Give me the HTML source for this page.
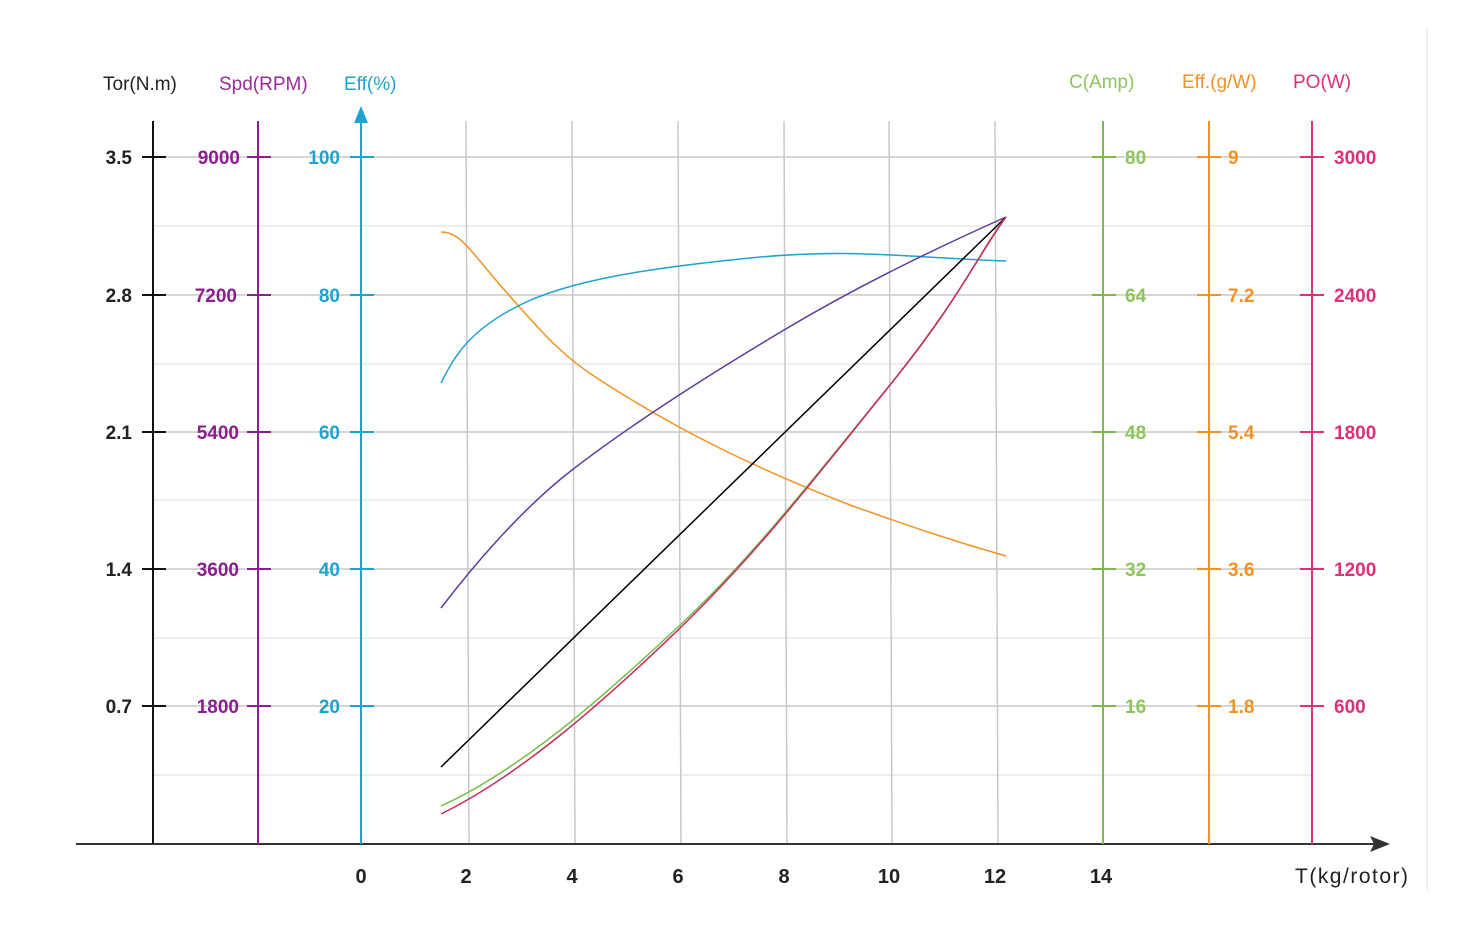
<!DOCTYPE html>
<html><head><style>body{margin:0;background:#fff}svg{display:block}text{font-family:"Liberation Sans",sans-serif}</style></head>
<body>
<svg width="1473" height="943" viewBox="0 0 1473 943">
<line x1="1427" y1="28" x2="1427" y2="890" stroke="#f0f0f0" stroke-width="2"/>
<g stroke="#e8e8e8" stroke-width="1.5">
<line x1="153" y1="226" x2="1312" y2="226"/><line x1="153" y1="364" x2="1312" y2="364"/>
<line x1="153" y1="500" x2="1312" y2="500"/><line x1="153" y1="638" x2="1312" y2="638"/>
<line x1="153" y1="775" x2="1312" y2="775"/></g>
<g stroke="#c8c8c8" stroke-width="1.5">
<line x1="153" y1="157" x2="1312" y2="157"/><line x1="153" y1="295" x2="1312" y2="295"/>
<line x1="153" y1="432" x2="1312" y2="432"/><line x1="153" y1="569" x2="1312" y2="569"/>
<line x1="153" y1="706" x2="1312" y2="706"/>
<line x1="466" y1="121" x2="469" y2="844"/><line x1="572" y1="121" x2="575" y2="844"/>
<line x1="678" y1="121" x2="681" y2="844"/><line x1="784" y1="121" x2="787" y2="844"/>
<line x1="889" y1="121" x2="892" y2="844"/><line x1="995" y1="121" x2="998" y2="844"/></g>
<line x1="76" y1="844" x2="1375" y2="844" stroke="#333" stroke-width="2"/>
<polygon points="1390,844 1370,836 1374,844 1370,852" fill="#333"/>
<g stroke-width="2">
<line x1="153" y1="121" x2="153" y2="844" stroke="#111"/>
<line x1="258" y1="121" x2="258" y2="844" stroke="#8a1e8e"/>
<line x1="361" y1="118" x2="361" y2="844" stroke="#1ea3d0"/>
<line x1="1103" y1="121" x2="1103" y2="844" stroke="#7cbb4a"/>
<line x1="1209" y1="121" x2="1209" y2="844" stroke="#f39220"/>
<line x1="1312" y1="121" x2="1312" y2="844" stroke="#de2f7a"/>
</g>
<polygon points="361,106 354,123 368,123" fill="#1ea3d0"/>
<g stroke-width="2">
<g stroke="#111"><path d="M142 157h24M142 295h24M142 432h24M142 569h24M142 706h24"/></g>
<g stroke="#8a1e8e"><path d="M247 157h24M247 295h24M247 432h24M247 569h24M247 706h24"/></g>
<g stroke="#1ea3d0"><path d="M350 157h24M350 295h24M350 432h24M350 569h24M350 706h24"/></g>
<g stroke="#7cbb4a"><path d="M1092 157h24M1092 295h24M1092 432h24M1092 569h24M1092 706h24"/></g>
<g stroke="#f39220"><path d="M1197 157h24M1197 295h24M1197 432h24M1197 569h24M1197 706h24"/></g>
<g stroke="#de2f7a"><path d="M1300 157h24M1300 295h24M1300 432h24M1300 569h24M1300 706h24"/></g>
</g>
<g font-size="19">
<text x="103" y="90" fill="#222">Tor(N.m)</text>
<text x="219" y="90" fill="#9b2a9b">Spd(RPM)</text>
<text x="344" y="90" fill="#1ea3d0">Eff(%)</text>
<text x="1069" y="88" fill="#8cc65a">C(Amp)</text>
<text x="1182" y="88" fill="#f39220">Eff.(g/W)</text>
<text x="1293" y="88" fill="#de2f7a">PO(W)</text>
</g>
<g font-size="19" font-weight="bold">
<g fill="#222" text-anchor="end"><text x="132" y="164">3.5</text><text x="132" y="302">2.8</text><text x="132" y="439">2.1</text><text x="132" y="576">1.4</text><text x="132" y="713">0.7</text></g>
<g fill="#8a1e8e" text-anchor="end"><text x="240" y="164">9000</text><text x="237" y="302">7200</text><text x="239" y="439">5400</text><text x="239" y="576">3600</text><text x="239" y="713">1800</text></g>
<g fill="#1ea3d0" text-anchor="end"><text x="340" y="164">100</text><text x="340" y="302">80</text><text x="340" y="439">60</text><text x="340" y="576">40</text><text x="340" y="713">20</text></g>
<g fill="#8cc65a"><text x="1125" y="164">80</text><text x="1125" y="302">64</text><text x="1125" y="439">48</text><text x="1125" y="576">32</text><text x="1125" y="713">16</text></g>
<g fill="#f39220"><text x="1228" y="164">9</text><text x="1228" y="302">7.2</text><text x="1228" y="439">5.4</text><text x="1228" y="576">3.6</text><text x="1228" y="713">1.8</text></g>
<g fill="#de2f7a"><text x="1334" y="164">3000</text><text x="1334" y="302">2400</text><text x="1334" y="439">1800</text><text x="1334" y="576">1200</text><text x="1334" y="713">600</text></g>
<g fill="#222" text-anchor="middle" font-size="20"><text x="361" y="883">0</text><text x="466" y="883">2</text><text x="572" y="883">4</text><text x="678" y="883">6</text><text x="784" y="883">8</text><text x="889" y="883">10</text><text x="995" y="883">12</text><text x="1101" y="883">14</text></g>
</g>
<text x="1295" y="883" font-size="21" fill="#222" textLength="113">T(kg/rotor)</text>
<g fill="none" stroke-width="1.5">
<path d="M441 232 C460 232 470 250 500 285 C540 330 560 355 600 380 C680 432 760 470 850 505 C920 530 960 543 1006 556" stroke="#f39220"/>
<path d="M441 383 C455 355 470 330 520 305 S 650 268 750 258 S 900 257 1006 261" stroke="#1ea3d0"/>
<path d="M441 608 C470 570 520 510 572 470 S 700 380 784 330 S 950 242 1006 217" stroke="#5e3c99"/>
<path d="M441 767 L1006 217" stroke="#000"/>
<path d="M441 806 C520 770 600 700 678 627 S 820 470 890 385 S 980 250 1006 217" stroke="#7cbb4a"/>
<path d="M441 814 C520 775 600 705 678 630 S 820 472 890 385 S 980 252 1006 217" stroke="#c8275f"/>
</g>
</svg>
</body></html>
